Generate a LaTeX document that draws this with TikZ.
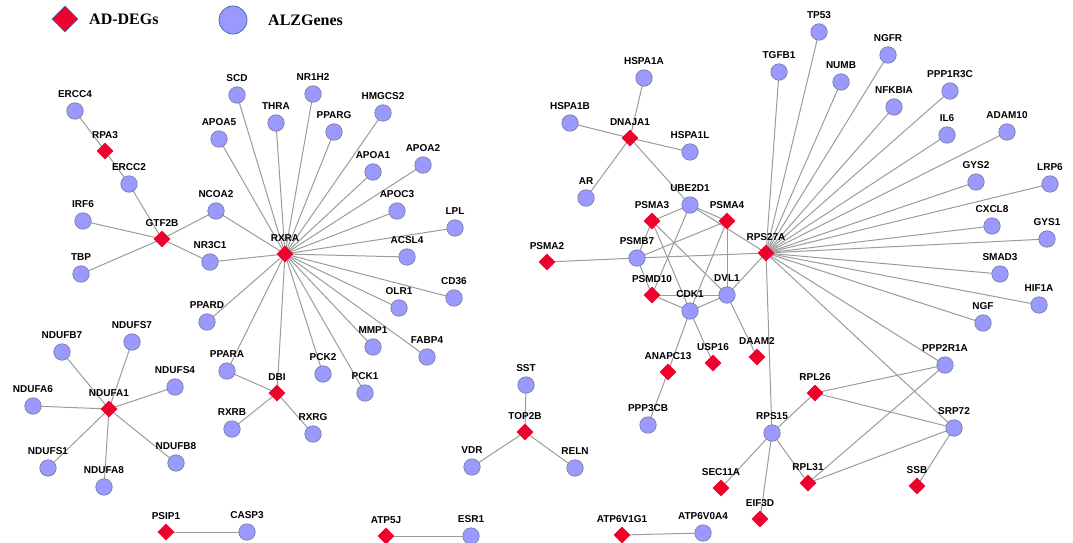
\documentclass[tikz,border=0pt]{standalone}
\usepackage{fontspec}
\usetikzlibrary{shapes.geometric,backgrounds}
\newfontfamily\labfont{Liberation Sans}
\newfontfamily\legfont{Liberation Serif}
\definecolor{cfill}{RGB}{153,153,255}
\definecolor{cborder}{RGB}{120,120,150}
\definecolor{dred}{RGB}{240,0,44}
\definecolor{edgec}{RGB}{155,155,155}
\definecolor{legborder}{RGB}{70,110,170}
\tikzset{
  gene/.style={circle,fill=cfill,draw=cborder,line width=0.6pt,minimum size=16.5pt,inner sep=0pt},
  deg/.style={diamond,fill=dred,minimum size=17pt,inner sep=0pt},
  lab/.style={font=\labfont\bfseries\fontsize{10}{11}\selectfont,inner sep=0pt,text depth=0pt},
  edge/.style={draw=edgec,line width=1pt},
  legtext/.style={font=\legfont\bfseries\fontsize{16}{18}\selectfont,anchor=west,inner sep=0pt}
}
\newcommand\genenode[3]{\node[gene,label={[lab,label distance=4.5pt]above:#1}] (#1) at (#2,#3) {};}
\newcommand\degnode[3]{\node[deg,label={[lab,label distance=4pt]above:#1}] (#1) at (#2,#3) {};}
\begin{document}
\begin{tikzpicture}[x=1pt,y=-1pt]
\useasboundingbox (0,0) rectangle (1073,543);
% legend
\node[diamond,fill=dred,draw=legborder,line width=0.6pt,minimum size=26pt,inner sep=0pt] (legD) at (65,19) {};
\node[legtext] (legDt) at (89,19) {AD-DEGs};
\node[circle,fill=cfill,draw=legborder,line width=0.8pt,minimum size=28pt,inner sep=0pt] (legC) at (233,20) {};
\node[legtext] (legCt) at (268,20) {ALZGenes};
% left cluster
\genenode{ERCC4}{75}{111}
\degnode{RPA3}{105}{151}
\genenode{ERCC2}{129}{184}
\genenode{IRF6}{83}{221}
\degnode{GTF2B}{162}{239}
\genenode{NCOA2}{216}{211}
\genenode{NR3C1}{210}{262}
\genenode{TBP}{81}{274}
\degnode{RXRA}{285}{254}
\genenode{SCD}{237}{95}
\genenode{NR1H2}{313}{94}
\genenode{THRA}{276}{123}
\genenode{PPARG}{334}{132}
\genenode{APOA5}{219}{139}
\genenode{HMGCS2}{383}{113}
\genenode{APOA1}{373}{172}
\genenode{APOA2}{423}{165}
\genenode{APOC3}{397}{211}
\genenode{LPL}{455}{228}
\genenode{ACSL4}{407}{257}
\genenode{CD36}{454}{298}
\genenode{OLR1}{399}{308}
\genenode{PPARD}{207}{322}
\genenode{MMP1}{373}{347}
\genenode{FABP4}{427}{357}
\genenode{PPARA}{227}{371}
\genenode{PCK2}{323}{374}
\degnode{DBI}{277}{393}
\genenode{PCK1}{365}{393}
\genenode{RXRB}{232}{429}
\genenode{RXRG}{313}{434}
\genenode{NDUFB7}{62}{352}
\genenode{NDUFS7}{132}{342}
\genenode{NDUFS4}{175}{387}
\genenode{NDUFA6}{33}{406}
\degnode{NDUFA1}{109}{409}
\genenode{NDUFS1}{48}{468}
\genenode{NDUFA8}{104}{487}
\genenode{NDUFB8}{176}{463}
\degnode{PSIP1}{166}{532}
\genenode{CASP3}{247}{532}
\genenode{SST}{526}{385}
\degnode{TOP2B}{525}{432}
\genenode{VDR}{472}{467}
\genenode{RELN}{575}{468}
\degnode{ATP5J}{386}{536}
\genenode{ESR1}{471}{536}
% right cluster
\genenode{HSPA1A}{644}{78}
\genenode{HSPA1B}{570}{123}
\degnode{DNAJA1}{630}{138}
\genenode{HSPA1L}{690}{152}
\genenode{AR}{586}{198}
\genenode{UBE2D1}{690}{205}
\degnode{PSMA3}{652}{221}
\degnode{PSMA4}{727}{221}
\degnode{RPS27A}{766}{253}
\degnode{PSMA2}{547}{262}
\genenode{PSMB7}{637}{258}
\degnode{PSMD10}{652}{295}
\genenode{DVL1}{727}{295}
\genenode{CDK1}{690}{311}
\genenode{TGFB1}{779}{72}
\genenode{TP53}{819}{32}
\genenode{NUMB}{841}{82}
\genenode{NGFR}{888}{55}
\genenode{NFKBIA}{894}{107}
\genenode{PPP1R3C}{950}{91}
\genenode{IL6}{947}{135}
\genenode{ADAM10}{1007}{132}
\genenode{GYS2}{976}{182}
\genenode{LRP6}{1050}{184}
\genenode{CXCL8}{992}{226}
\genenode{GYS1}{1047}{239}
\genenode{SMAD3}{1000}{274}
\genenode{HIF1A}{1039}{305}
\genenode{NGF}{983}{323}
\degnode{ANAPC13}{668}{372}
\degnode{USP16}{713}{363}
\degnode{DAAM2}{757}{357}
\genenode{PPP2R1A}{945}{365}
\degnode{RPL26}{815}{393}
\genenode{PPP3CB}{648}{425}
\genenode{RPS15}{772}{433}
\genenode{SRP72}{954}{428}
\degnode{SEC11A}{721}{488}
\degnode{RPL31}{808}{483}
\degnode{SSB}{917}{486}
\degnode{EIF3D}{760}{519}
\degnode{ATP6V1G1}{622}{535}
\genenode{ATP6V0A4}{703}{533}
% edges
\begin{scope}[on background layer]
\foreach \a/\b in {ERCC4/RPA3,RPA3/ERCC2,ERCC2/GTF2B,GTF2B/IRF6,GTF2B/TBP,GTF2B/NCOA2,GTF2B/NR3C1,
  RXRA/NCOA2,RXRA/NR3C1,RXRA/SCD,RXRA/THRA,RXRA/NR1H2,RXRA/PPARG,RXRA/HMGCS2,RXRA/APOA5,RXRA/APOA1,RXRA/APOA2,
  RXRA/APOC3,RXRA/LPL,RXRA/ACSL4,RXRA/CD36,RXRA/OLR1,RXRA/FABP4,RXRA/MMP1,RXRA/PCK1,RXRA/PCK2,RXRA/DBI,RXRA/PPARA,RXRA/PPARD,
  DBI/PPARA,DBI/RXRB,DBI/RXRG,
  NDUFA1/NDUFB7,NDUFA1/NDUFS7,NDUFA1/NDUFS4,NDUFA1/NDUFA6,NDUFA1/NDUFS1,NDUFA1/NDUFA8,NDUFA1/NDUFB8,
  PSIP1/CASP3,ATP5J/ESR1,TOP2B/SST,TOP2B/VDR,TOP2B/RELN,ATP6V1G1/ATP6V0A4,
  DNAJA1/HSPA1A,DNAJA1/HSPA1B,DNAJA1/HSPA1L,DNAJA1/AR,DNAJA1/UBE2D1,
  UBE2D1/PSMA3,UBE2D1/PSMA4,UBE2D1/RPS27A,UBE2D1/PSMD10,
  PSMA3/PSMB7,PSMA3/CDK1,PSMA3/DVL1,
  PSMA4/PSMB7,PSMA4/CDK1,PSMA4/DVL1,
  PSMA2/PSMB7,PSMB7/RPS27A,PSMB7/PSMD10,
  PSMD10/CDK1,PSMD10/DVL1,CDK1/DVL1,DVL1/RPS27A,
  CDK1/ANAPC13,CDK1/USP16,DVL1/DAAM2,ANAPC13/PPP3CB,
  RPS27A/TGFB1,RPS27A/TP53,RPS27A/NUMB,RPS27A/NGFR,RPS27A/NFKBIA,RPS27A/PPP1R3C,RPS27A/IL6,RPS27A/ADAM10,
  RPS27A/GYS2,RPS27A/LRP6,RPS27A/CXCL8,RPS27A/GYS1,RPS27A/SMAD3,RPS27A/HIF1A,RPS27A/NGF,RPS27A/PPP2R1A,RPS27A/SRP72,RPS27A/RPS15,
  RPS15/RPL26,RPS15/SEC11A,RPS15/EIF3D,RPS15/RPL31,
  RPL26/PPP2R1A,RPL26/SRP72,PPP2R1A/RPL31,SRP72/RPL31,SRP72/SSB}
  {\draw[edge] (\a.center) -- (\b.center);}
\end{scope}
\end{tikzpicture}
\end{document}
